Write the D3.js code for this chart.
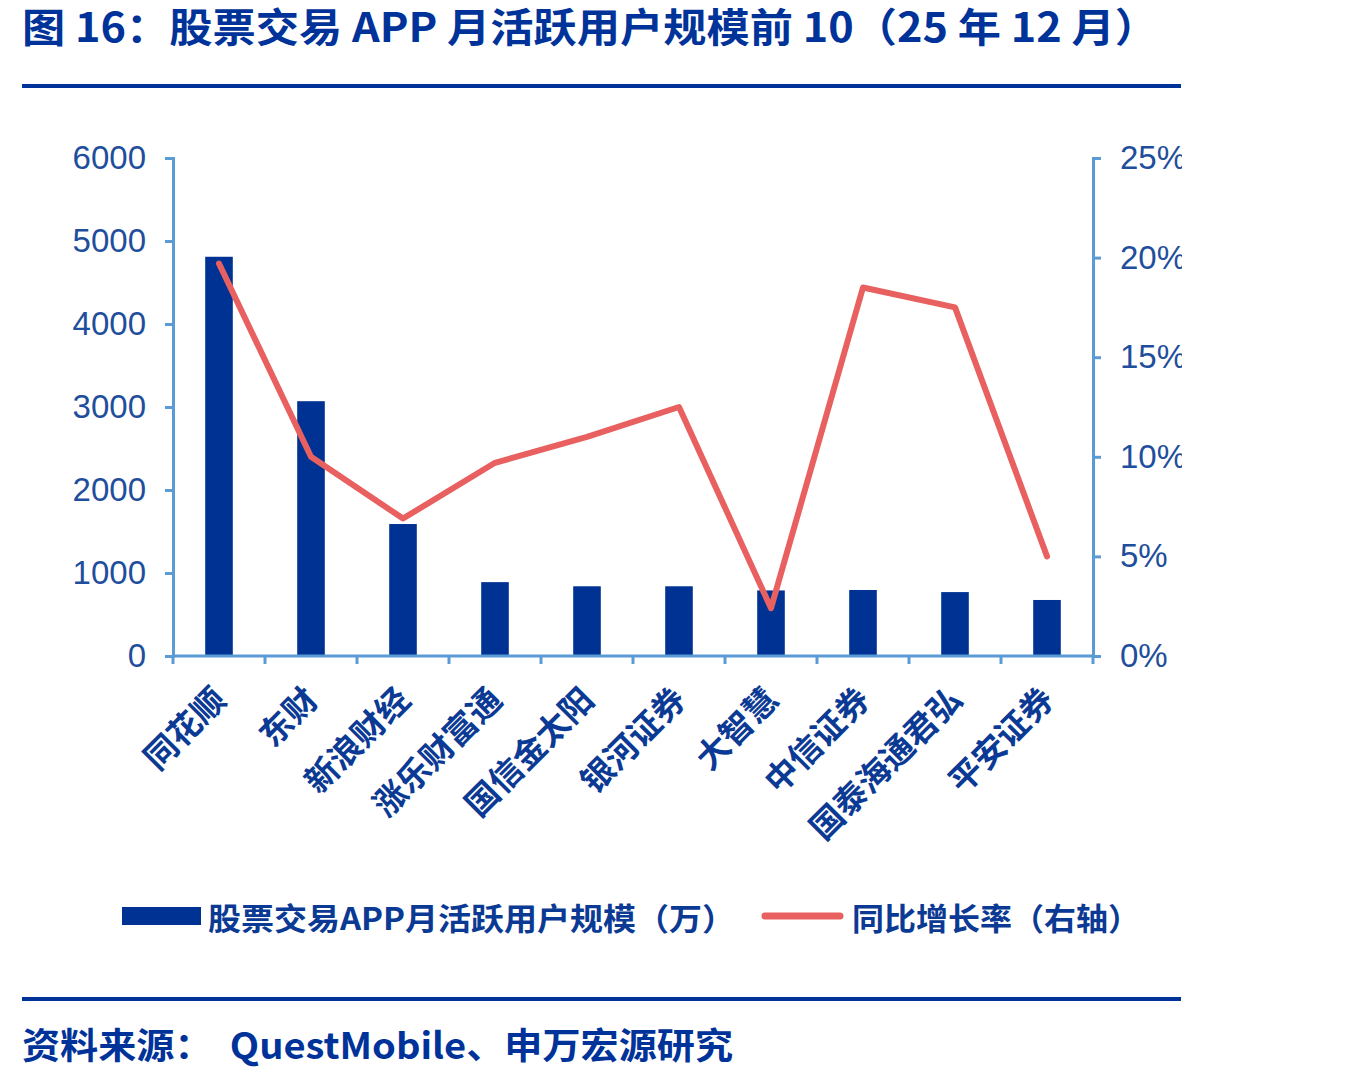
<!DOCTYPE html>
<html>
<head>
<meta charset="utf-8">
<script src="https://cdn.jsdelivr.net/npm/d3@7"></script>
<style>
  body { margin: 0; background: #fff; }
  svg { display: block; }
</style>
</head>
<body>
<svg id="chart" width="1350" height="1076"></svg>
<script>
// data
const categories = ['同花顺', '东财', '新浪财经', '涨乐财富通', '国信金太阳', '银河证券', '大智慧', '中信证券', '国泰海通君弘', '平安证券'];
const mau = [4810, 3070, 1590, 890, 840, 840, 790, 795, 770, 675];
const yoy = [19.7, 10.0, 6.9, 9.7, 11.0, 12.5, 2.4, 18.5, 17.5, 5.0];
const leftTicks = [0, 1000, 2000, 3000, 4000, 5000, 6000];
const rightTicks = [0, 5, 10, 15, 20, 25];

const svg = d3.select('#chart');
const navy = '#003293';
const textBlue = '#0b3a94';
const axisBlue = '#5b9bd5';
const red = '#e8605f';
const cjk = '"Noto Sans CJK SC", "Noto Sans", sans-serif';

const plot = { left: 173, right: 1093, top: 158, bottom: 656 };

// title + rules
svg.append('text')
	.attr('x', 22).attr('y', 42)
	.attr('font-family', cjk).attr('font-weight', 700).attr('font-size', 40)
	.attr('fill', '#003399')
	.attr('textLength', 1136).attr('lengthAdjust', 'spacingAndGlyphs')
	.text('图 16：股票交易 APP 月活跃用户规模前 10（25 年 12 月）');

svg.append('rect').attr('x', 22).attr('y', 84).attr('width', 1159).attr('height', 4).attr('fill', '#003399');
svg.append('rect').attr('x', 22).attr('y', 997).attr('width', 1159).attr('height', 4).attr('fill', '#003399');

svg.append('text')
	.attr('x', 22).attr('y', 1059)
	.attr('font-family', cjk).attr('font-weight', 700).attr('font-size', 36)
	.attr('fill', '#003399')
	.attr('textLength', 711).attr('lengthAdjust', 'spacingAndGlyphs')
	.attr('xml:space', 'preserve')
	.text('资料来源：  QuestMobile、申万宏源研究');

// clip so right-axis labels get cut like the reference
svg.append('clipPath').attr('id', 'clip')
	.append('rect').attr('x', 0).attr('y', 100).attr('width', 1182).attr('height', 880);

const g = svg.append('g').attr('clip-path', 'url(#clip)');

const x = d3.scaleBand()
	.domain(categories)
	.range([plot.left, plot.right])
	.paddingInner(0.7)
	.paddingOuter(0.35);

const y = d3.scaleLinear().domain([0, 6000]).range([plot.bottom, plot.top]);
const y2 = d3.scaleLinear().domain([0, 25]).range([plot.bottom, plot.top]);

// bars
g.append('g').selectAll('rect')
	.data(categories)
	.join('rect')
	.attr('x', d => x(d))
	.attr('width', x.bandwidth())
	.attr('y', (d, i) => y(mau[i]))
	.attr('height', (d, i) => y(0) - y(mau[i]))
	.attr('fill', navy);

// axes
const styleAxis = sel => {
	sel.select('.domain').attr('stroke', axisBlue).attr('stroke-width', 3);
	sel.selectAll('.tick line').attr('stroke', axisBlue).attr('stroke-width', 3);
	sel.selectAll('.tick text')
		.attr('fill', '#1f4e9c')
		.attr('font-family', '"Liberation Sans", Arial, sans-serif')
		.attr('font-size', 33);
};

g.append('g')
	.attr('transform', `translate(${plot.left},0)`)
	.call(d3.axisLeft(y).tickValues(leftTicks).tickSize(8).tickSizeOuter(8).tickPadding(19).tickFormat(d3.format('d')))
	.call(styleAxis);

g.append('g')
	.attr('transform', `translate(${plot.right},0)`)
	.call(d3.axisRight(y2).tickValues(rightTicks).tickSize(8).tickSizeOuter(8).tickPadding(19).tickFormat(d => d + '%'))
	.call(styleAxis);

// x axis: ticks sit between categories
const boundaries = d3.range(categories.length + 1).map(i => plot.left + i * x.step());
const xa = g.append('g');
xa.append('line')
	.attr('x1', plot.left).attr('x2', plot.right)
	.attr('y1', plot.bottom).attr('y2', plot.bottom)
	.attr('stroke', axisBlue).attr('stroke-width', 3);
xa.selectAll('line.tk')
	.data(boundaries)
	.join('line')
	.attr('class', 'tk')
	.attr('x1', d => d).attr('x2', d => d)
	.attr('y1', plot.bottom).attr('y2', plot.bottom + 8)
	.attr('stroke', axisBlue).attr('stroke-width', 3);

xa.selectAll('text')
	.data(categories)
	.join('text')
	.attr('transform', d => `translate(${x(d) + x.bandwidth() / 2 + 9},${plot.bottom + 46}) rotate(-45)`)
	.attr('text-anchor', 'end')
	.attr('font-family', cjk).attr('font-weight', 700).attr('font-size', 33)
	.attr('fill', textBlue)
	.text(d => d);

// growth line
const line = d3.line()
	.x((d, i) => x(categories[i]) + x.bandwidth() / 2)
	.y(d => y2(d));

g.append('path')
	.datum(yoy)
	.attr('d', line)
	.attr('fill', 'none')
	.attr('stroke', red)
	.attr('stroke-width', 6)
	.attr('stroke-linejoin', 'round')
	.attr('stroke-linecap', 'round');

// legend
const lg = svg.append('g');
lg.append('rect').attr('x', 122).attr('y', 907).attr('width', 79).attr('height', 18).attr('fill', navy);
lg.append('text')
	.attr('x', 208).attr('y', 930)
	.attr('font-family', cjk).attr('font-weight', 700).attr('font-size', 31)
	.attr('fill', textBlue)
	.attr('textLength', 527).attr('lengthAdjust', 'spacingAndGlyphs')
	.text('股票交易APP月活跃用户规模（万）');
lg.append('line')
	.attr('x1', 765).attr('x2', 840).attr('y1', 916).attr('y2', 916)
	.attr('stroke', red).attr('stroke-width', 7).attr('stroke-linecap', 'round');
lg.append('text')
	.attr('x', 852).attr('y', 930)
	.attr('font-family', cjk).attr('font-weight', 700).attr('font-size', 31)
	.attr('fill', textBlue)
	.attr('textLength', 288).attr('lengthAdjust', 'spacingAndGlyphs')
	.text('同比增长率（右轴）');
</script>
</body>
</html>
